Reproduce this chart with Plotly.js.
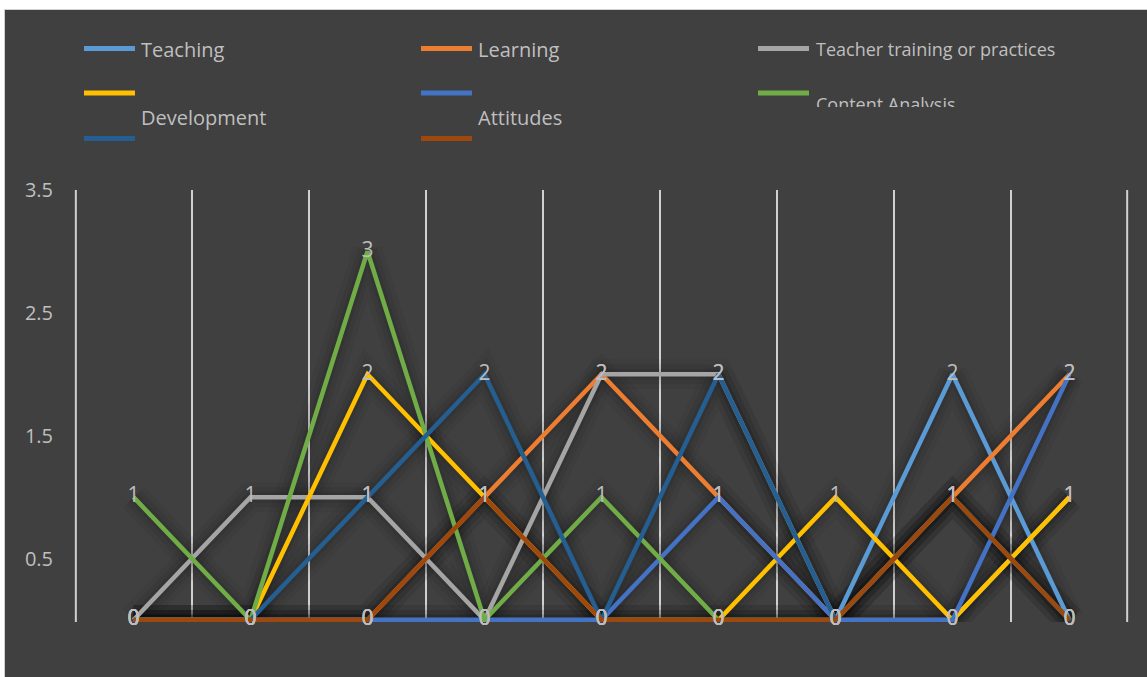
<!DOCTYPE html>
<html>
<head>
<meta charset="utf-8">
<script src="https://cdn.plot.ly/plotly-3.0.1.min.js"></script>
<style>
  html, body { margin: 0; padding: 0; background: #ffffff; width: 1147px; height: 677px; overflow: hidden; }
  #chart { position: absolute; left: 4px; top: 9px; width: 1143px; height: 668px;
           border-top: 1px solid #d0d0d0; border-left: 1px solid #d0d0d0; box-sizing: border-box; background: #404040; }
  #clip { position: absolute; left: 810px; top: 107px; width: 200px; height: 12px; background: #404040; }
</style>
</head>
<body>
<div id="chart"></div>
<div id="clip"></div>
<script>
// ---- data ----
const categories = [1, 2, 3, 4, 5, 6, 7, 8, 9];
const teaching        = [0, 0, 0, 0, 0, 0, 0, 2, 0];
const learning        = [0, 0, 0, 1, 2, 1, 0, 1, 2];
const teacherTraining = [0, 1, 1, 0, 2, 2, 0, 0, 1];
const development     = [0, 0, 2, 1, 0, 0, 1, 0, 1];
const attitudes       = [0, 0, 0, 0, 0, 1, 0, 0, 2];
const contentAnalysis = [1, 0, 3, 0, 1, 0, 0, 1, 0];
const seriesSeven     = [0, 0, 1, 2, 0, 2, 0, 1, 0];
const seriesEight     = [0, 0, 0, 1, 0, 0, 0, 1, 0];
const yTickVals = [0.5, 1.5, 2.5, 3.5];
const yTickText = ['0.5', '1.5', '2.5', '3.5'];
const legendRow1 = ['Teaching', 'Learning', 'Teacher training or practices'];
const legendRow2 = ['Development', 'Attitudes', 'Content Analysis'];

const allSeries = [teaching, learning, teacherTraining, development, attitudes, contentAnalysis, seriesSeven, seriesEight];
const colors = ['#5b9bd5', '#ed7d31', '#a5a5a5', '#ffc000', '#4472c4', '#70ad47', '#255e91', '#9e480e'];
const xIdx = categories.map((c, i) => i);

const W = 1142, H = 667;
const L = 70, R = 1123, T = 180, B = 612;
const px = x => (x - L) / (R - L);
const py = y => (B - y) / (B - T);

const traces = [];
// soft shadows
[[30, 0.045], [20, 0.055], [11, 0.07]].forEach(([w, a]) => {
  allSeries.forEach(s => {
    traces.push({x: xIdx, y: s, mode: 'lines', line: {color: 'rgba(0,0,0,' + a + ')', width: w}, hoverinfo: 'skip', showlegend: false});
  });
});
// lines
allSeries.forEach((s, i) => {
  traces.push({x: xIdx, y: s, mode: 'lines', line: {color: colors[i], width: 4.5}, showlegend: false});
});
// data labels on top
allSeries.forEach(s => {
  traces.push({x: xIdx, y: s, mode: 'text', text: s.map(String), textposition: 'middle center',
    textfont: {family: 'Open Sans', size: 21, color: '#bdbdbd'}, cliponaxis: false, showlegend: false, hoverinfo: 'skip'});
});

// custom legend
const shapes = [];
const annotations = [];
const colX = [79, 416, 753];
const textX = [134, 471, 809];
const markerY = [38.5, 83, 128.5];
const markerOrder = [[0, 1, 2], [3, 4, 5], [6, 7]];
markerOrder.forEach((row, r) => {
  row.forEach((ci, c) => {
    shapes.push({type: 'line', xref: 'paper', yref: 'paper',
      x0: px(colX[c]), x1: px(colX[c] + 51), y0: py(markerY[r]), y1: py(markerY[r]),
      line: {color: colors[ci], width: 5}});
  });
});
// edge gridlines (Plotly drops gridlines on the plot border)
[0, 1].forEach(e => {
  shapes.push({type: 'line', xref: 'paper', yref: 'paper', layer: 'below',
    x0: e === 0 ? 0.0008 : 0.9992, x1: e === 0 ? 0.0008 : 0.9992, y0: 0, y1: 1,
    line: {color: '#d0d0d0', width: 2}});
});
const row1Sizes = [20, 20, 18];
legendRow1.forEach((t, c) => {
  annotations.push({text: t, xref: 'paper', yref: 'paper', x: px(textX[c]), y: py(39),
    xanchor: 'left', yanchor: 'middle', showarrow: false,
    font: {family: 'Open Sans', size: row1Sizes[c], color: '#bfbfbf'}});
});
const row2Y = [108, 108, 94];
const row2Sizes = [20, 20, 18];
legendRow2.forEach((t, c) => {
  annotations.push({text: t, xref: 'paper', yref: 'paper', x: px(textX[c]), y: py(row2Y[c]),
    xanchor: 'left', yanchor: 'middle', showarrow: false,
    font: {family: 'Open Sans', size: row2Sizes[c], color: '#bfbfbf'}});
});

const layout = {
  width: W, height: H,
  paper_bgcolor: '#404040', plot_bgcolor: '#404040',
  margin: {l: L, r: W - R, t: T, b: H - B, pad: 0},
  showlegend: false,
  font: {family: 'Open Sans', color: '#bfbfbf'},
  xaxis: {range: [-0.5, 8.5], tickvals: [-0.5, 0.5, 1.5, 2.5, 3.5, 4.5, 5.5, 6.5, 7.5, 8.5],
    showticklabels: false, ticks: '', showgrid: true, gridcolor: '#d0d0d0', gridwidth: 2,
    zeroline: false, showline: false, fixedrange: true},
  yaxis: {range: [-0.016, 3.5], tickvals: yTickVals, ticktext: yTickText, showgrid: false,
    zeroline: false, showline: false, ticks: 'outside', ticklen: 17, tickcolor: 'rgba(0,0,0,0)',
    tickfont: {family: 'Open Sans', size: 20, color: '#bfbfbf'}, fixedrange: true},
  shapes: shapes,
  annotations: annotations
};

Plotly.newPlot('chart', traces, layout, {displayModeBar: false, staticPlot: true});
</script>
</body>
</html>
